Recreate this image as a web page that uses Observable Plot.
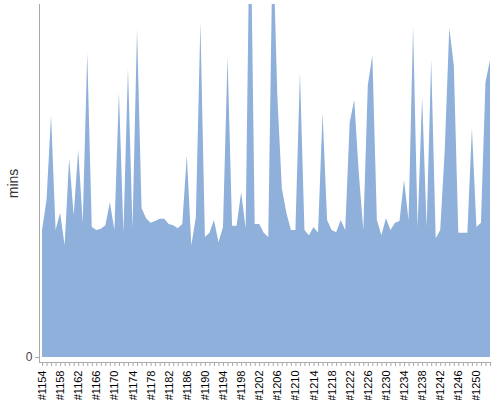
<!DOCTYPE html>
<html>
<head>
<meta charset="utf-8">
<script src="https://cdn.jsdelivr.net/npm/d3@7"></script>
<script src="https://cdn.jsdelivr.net/npm/@observablehq/plot@0.6"></script>
<style>
  body { margin: 0; background: #fff; }
  #chart svg [aria-label="y-axis label"] text { font-size: 14px; fill: #333; }
</style>
</head>
<body>
<div id="chart"></div>
<script>
const runs = [
  "#1154","#1155","#1156","#1157","#1158","#1159","#1160","#1161","#1162","#1163",
  "#1164","#1165","#1166","#1167","#1168","#1169","#1170","#1171","#1172","#1173",
  "#1174","#1175","#1176","#1177","#1178","#1179","#1180","#1181","#1182","#1183",
  "#1184","#1185","#1186","#1187","#1188","#1189","#1190","#1191","#1192","#1193",
  "#1194","#1195","#1196","#1197","#1198","#1199","#1200","#1201","#1202","#1203",
  "#1204","#1205","#1206","#1207","#1208","#1209","#1210","#1211","#1212","#1213",
  "#1214","#1215","#1216","#1217","#1218","#1219","#1220","#1221","#1222","#1223",
  "#1224","#1225","#1226","#1227","#1228","#1229","#1230","#1231","#1232","#1233",
  "#1234","#1235","#1236","#1237","#1238","#1239","#1240","#1241","#1242","#1243",
  "#1244","#1245","#1246","#1247","#1248","#1249","#1250","#1251","#1252","#1253"
];
const mins = [
  21.6, 26.7, 41.1, 21.6, 24.5, 19.0, 33.8, 24.1, 35.2, 22.8,
  51.7, 22.1, 21.6, 21.8, 22.4, 26.3, 21.6, 45.0, 21.2, 49.1,
  21.9, 55.8, 25.3, 23.6, 22.8, 23.1, 23.5, 23.5, 22.6, 22.4,
  21.9, 22.6, 34.3, 19.0, 23.8, 56.9, 20.4, 21.1, 23.3, 19.5,
  22.1, 51.0, 22.3, 22.3, 28.0, 21.9, 81.0, 22.6, 22.6, 21.1,
  20.4, 72.0, 44.5, 28.7, 24.5, 21.6, 21.6, 48.4, 21.6, 20.7,
  22.1, 21.1, 41.5, 23.3, 21.6, 21.2, 23.3, 21.6, 39.9, 43.7,
  31.3, 21.6, 46.2, 51.3, 23.3, 20.7, 23.6, 21.6, 22.8, 23.1,
  30.1, 23.3, 56.1, 22.1, 44.2, 22.1, 50.5, 20.2, 21.6, 35.2,
  55.9, 49.6, 21.1, 21.1, 21.1, 38.9, 22.1, 22.8, 46.7, 50.5
];
const tickLabels = [
  "#1154","#1158","#1162","#1166","#1170","#1174","#1178","#1182","#1186","#1190",
  "#1194","#1198","#1202","#1206","#1210","#1214","#1218","#1222","#1226","#1230",
  "#1234","#1238","#1242","#1246","#1250"
];
const yTicks = [0];
const yLabel = "mins";

const data = runs.map((r, i) => ({run: r, mins: mins[i]}));

const chart = Plot.plot({
  width: 500,
  height: 400,
  marginTop: 4,
  marginLeft: 39,
  marginRight: 10,
  marginBottom: 38,
  insetLeft: 3,
  insetBottom: 5,
  style: {fontFamily: "'Liberation Sans', Arial, sans-serif", fontSize: "11px", color: "#000", background: "#fff"},
  x: {type: "point", domain: runs, padding: 0},
  y: {domain: [0, 60]},
  marks: [
    Plot.areaY(data, {x: "run", y: "mins", fill: "#8eb0da", clip: true}),
    Plot.frame({anchor: "left", stroke: "#aaa"}),
    Plot.frame({anchor: "bottom", stroke: "#aaa"}),
    Plot.axisX({
      ticks: runs,
      tickFormat: d => tickLabels.includes(d) ? d : "",
      tickSize: 4,
      tickRotate: -90,
      tickPadding: 4,
      stroke: "#aaa",
      fill: "#000",
      label: null
    }),
    Plot.axisY({
      ticks: yTicks,
      tickSize: 4,
      tickPadding: 3,
      stroke: "#aaa",
      fill: "#444",
      fontSize: 12,
      label: yLabel,
      labelAnchor: "center",
      labelArrow: "none",
      labelOffset: 31
    })
  ]
});
document.getElementById("chart").appendChild(chart);
</script>
</body>
</html>
